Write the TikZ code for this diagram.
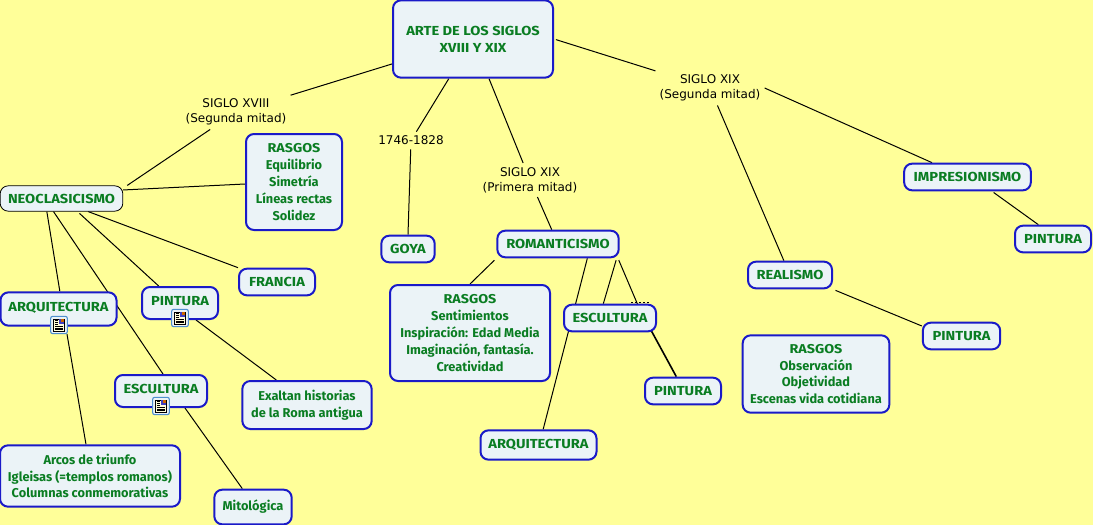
\documentclass[tikz,border=0pt]{standalone}
\usepackage{fontspec}
\setmainfont{DejaVu Sans}
\newfontfamily\boxfont{Fira Sans}
\newfontfamily\capsfont[FakeStretch=1.12]{Fira Sans}
\usetikzlibrary{backgrounds}
\definecolor{paper}{HTML}{FFFF99}
\definecolor{boxfill}{HTML}{EBF3F7}
\definecolor{boxline}{HTML}{1A1AC8}
\definecolor{boxtext}{HTML}{0A7D22}
\definecolor{iconline}{HTML}{4F8FCF}
\tikzset{
	mapbox/.style={draw=boxline,line width=1.5pt,rounded corners=6pt,fill=boxfill,text=boxtext,
		font=\boxfont\fontsize{9.6}{12.6}\selectfont\bfseries,align=center,inner sep=0pt},
	capsbox/.style={mapbox,font=\capsfont\fontsize{9.8}{12.6}\selectfont\bfseries},
	rootbox/.style={capsbox,draw=black,line width=.6pt},
	phrase/.style={font=\fontsize{9}{11.2}\selectfont,align=center,inner xsep=3pt,inner ysep=3pt},
	link/.style={black,line width=.75pt},
	noteicon/.style={draw=iconline,line width=.8pt,fill=boxfill,rounded corners=1.5pt,minimum width=12.5pt,minimum height=13pt,inner sep=0pt}
}
\newcommand{\notemarks}[1]{
	\fill[yellow!15] ([shift={(-4pt,-4.6pt)}]#1.center) rectangle ([shift={(4pt,4.6pt)}]#1.center);
	\draw[black,line width=.4pt] ([shift={(-4pt,-4.6pt)}]#1.center) rectangle ([shift={(4pt,4.6pt)}]#1.center);
	\fill[blue!50!gray] ([shift={(-.3pt,.6pt)}]#1.center) rectangle ([shift={(3.4pt,4.2pt)}]#1.center);
	\fill[orange!80!black] ([shift={(1.6pt,2.6pt)}]#1.center) rectangle ([shift={(3.4pt,4.2pt)}]#1.center);
	\foreach \ly in {-3.4,-2.1,-.8}
		\draw[black,line width=.35pt] ([shift={(-3pt,\ly pt)}]#1.center) -- ([shift={(3pt,\ly pt)}]#1.center);
	\foreach \ly in {.8,2.1,3.4}
		\draw[black,line width=.35pt] ([shift={(-3pt,\ly pt)}]#1.center) -- ([shift={(-1pt,\ly pt)}]#1.center);
}
\begin{document}
\begin{tikzpicture}[x=.75pt,y=-.75pt]
	\useasboundingbox (0,0) rectangle (1093,525);
	% top of the map
	\node[capsbox,minimum width=120pt,minimum height=58pt] (arte) at (473,39) {ARTE DE LOS SIGLOS\\XVIII Y XIX};
	\node[phrase] (xviii) at (236,112) {SIGLO XVIII\\(Segunda mitad)};
	\node[phrase] (goyadate) at (411,140.5) {1746-1828};
	\node[phrase] (xixa) at (530,180) {SIGLO XIX\\(Primera mitad)};
	\node[phrase] (xixb) at (710,88) {SIGLO XIX\\(Segunda mitad)};
	% neoclasicismo
	\node[rootbox,minimum width=92pt,minimum height=19pt] (neoclas) at (61.5,198.5) {NEOCLASICISMO};
	\node[mapbox,minimum width=72pt,minimum height=72pt] (rasgosa) at (294,182) {{\capsfont RASGOS}\\Equilibrio\\Simetría\\Líneas rectas\\Solidez};
	\node[capsbox,minimum width=57pt,minimum height=20pt] (francia) at (277,282) {FRANCIA};
	\node[capsbox,minimum width=87pt,minimum height=25pt,text depth=3pt] (arqa) at (58.5,309) {ARQUITECTURA};
	\node[capsbox,minimum width=57pt,minimum height=24pt,text depth=3pt] (pinta) at (180,303) {PINTURA};
	\node[capsbox,minimum width=69pt,minimum height=24pt,text depth=3pt] (esca) at (161,391) {ESCULTURA};
	\node[mapbox,minimum width=97pt,minimum height=36pt] (exaltan) at (307,405) {Exaltan historias\\de la Roma antigua};
	\node[mapbox,minimum width=135pt,minimum height=46pt] (arcos) at (90,476) {Arcos de triunfo\\Igleisas (=templos romanos)\\Columnas conmemorativas};
	\node[mapbox,minimum width=58pt,minimum height=26pt] (mito) at (253,507) {Mitológica};
	\node[noteicon] (notea) at (59,325) {};
	\node[noteicon] (noteb) at (180,318) {};
	\node[noteicon] (notec) at (161,406) {};
	\notemarks{notea}
	\notemarks{noteb}
	\notemarks{notec}
	% goya y romanticismo
	\node[capsbox,minimum width=40pt,minimum height=20pt] (goya) at (408,249) {GOYA};
	\node[capsbox,minimum width=91pt,minimum height=20pt] (romant) at (558,244) {ROMANTICISMO};
	\node[mapbox,minimum width=120pt,minimum height=72pt] (rasgosb) at (470,333) {{\capsfont RASGOS}\\Sentimientos\\Inspiración: Edad Media\\Imaginación, fantasía.\\Creatividad};
	\node[capsbox,minimum width=69pt,minimum height=20pt] (escb) at (610,318) {ESCULTURA};
	\node[capsbox,minimum width=57pt,minimum height=20pt] (pintb) at (683,391) {PINTURA};
	\node[capsbox,minimum width=87pt,minimum height=22pt] (arqb) at (538.5,445) {ARQUITECTURA};
	% realismo e impresionismo
	\node[capsbox,minimum width=63pt,minimum height=20pt] (realismo) at (790,275) {REALISMO};
	\node[capsbox,minimum width=58pt,minimum height=20pt] (pintc) at (961.5,336) {PINTURA};
	\node[mapbox,minimum width=110pt,minimum height=58pt] (rasgosc) at (816,374) {{\capsfont RASGOS}\\Observación\\Objetividad\\Escenas vida cotidiana};
	\node[capsbox,minimum width=95pt,minimum height=20pt] (impres) at (967.5,177) {IMPRESIONISMO};
	\node[capsbox,minimum width=57pt,minimum height=20pt] (pintd) at (1053,239) {PINTURA};
	\coordinate (hidden) at (640,310);
	\begin{scope}[on background layer]
		\fill[paper] (0,0) rectangle (1093,525);
		\draw[link] (arte) -- (xviii);
		\draw[link] (arte) -- (goyadate);
		\draw[link] (arte) -- (xixa);
		\draw[link,shorten <=1.5pt] (arte.east) -- (xixb);
		\draw[link] (xviii) -- ([xshift=3pt]neoclas.north east);
		\draw[link] (goyadate) -- (goya.north);
		\draw[link] (xixa) -- (romant);
		\draw[link] (xixb.east) -- ([xshift=-26.6pt]impres.north);
		\draw[link] (xixb) -- (realismo);
		\draw[link] ([yshift=6.4pt]neoclas.east) -- ([yshift=-1.5pt]rasgosa.west);
		\draw[link] ([xshift=-11pt]neoclas.south) -- ([xshift=1pt]arqa.north);
		\draw[link] ([xshift=-6pt]neoclas.south) -- ([xshift=1.5pt]esca.north);
		\draw[link,shorten <=2pt] ([xshift=12pt]neoclas.south) -- ([xshift=-16pt]pinta.north);
		\draw[link] ([xshift=20pt]neoclas.south) -- (francia.north west);
		\draw[link] ([xshift=6pt]notea.south) -- ([xshift=-3pt]arcos.north);
		\draw[link] ([xshift=12pt]pinta.south) -- ([xshift=-23pt]exaltan.north);
		\draw[link] ([xshift=18pt]esca.south) -- ([xshift=-8pt]mito.north);
		\draw[link,shorten <=2pt] (romant.south west) -- (rasgosb.north);
		\draw[link] ([xshift=22pt]romant.south) -- ([xshift=3.5pt]arqb.north);
		\draw[link,shorten <=1.5pt] ([xshift=44pt]romant.south) -- ([xshift=-5pt]escb.north);
		\draw[link,shorten <=1.5pt] ([xshift=45pt]romant.south) -- (hidden);
		\draw[link,line width=1.2pt] (hidden) -- ([xshift=-5pt]pintb.north);
		\draw[link,shorten <=2pt] (realismo.south east) -- ([yshift=7.5pt]pintc.west);
		\draw[link,shorten <=1.5pt] ([xshift=18.4pt]impres.south) -- ([xshift=-11pt]pintd.north);
		\draw[black,line width=.8pt,dash pattern=on 1.5pt off 1.5pt] ([xshift=16pt,yshift=.6pt]escb.north) -- ([xshift=31pt,yshift=.6pt]escb.north);
	\end{scope}
	\end{tikzpicture}
\end{document}
